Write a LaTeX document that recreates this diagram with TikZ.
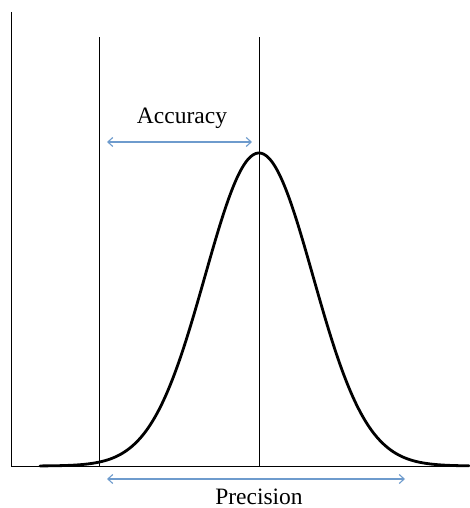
\documentclass[tikz,border=0pt]{standalone}
\usepackage{fontspec}
\setmainfont{Liberation Serif}
\usetikzlibrary{arrows.meta, positioning}
\definecolor{flecha}{RGB}{110, 155, 205}

\begin{document}
\begin{tikzpicture}[x=1pt, y=1pt,
    guia/.style={line width=0.9pt, black},
    medida/.style={{Straight Barb[length=5pt, width=9pt]}-{Straight Barb[length=5pt, width=9pt]}, line width=1.1pt, color=flecha},
    etiqueta/.style={font=\fontsize{23.5}{26}\selectfont, inner sep=0pt}]
  \useasboundingbox (0,0) rectangle (469,508);
  % ejes
  \coordinate (origen) at (11,42);
  \coordinate (ejeY) at (11,496);
  \coordinate (ejeX) at (469,42);
  \draw[guia] (ejeY) -- (origen) -- (ejeX);
  % lineas verticales
  \coordinate (refBase) at (99,42);
  \coordinate (refTop) at (99,471);
  \coordinate (medBase) at (259,42);
  \coordinate (medTop) at (259,471);
  \draw[guia] (refBase) -- (refTop);
  \draw[guia] (medBase) -- (medTop);
  % curva normal
  \draw[line width=2.8pt, line cap=round]
    plot[domain=40:469, samples=160, smooth] (\x, {42+313*exp(-0.5*((\x-259)/54)^2)});
  % exactitud
  \coordinate (accIzq) at (107,366);
  \coordinate (accDer) at (252,366);
  \draw[medida] (accIzq) -- (accDer);
  \node[etiqueta] (accuracy) at (182,390) {Accuracy};
  % precision
  \coordinate (preIzq) at (107,29);
  \coordinate (preDer) at (405,29);
  \draw[medida] (preIzq) -- (preDer);
  \node[etiqueta, anchor=base] (precision) at (259,4) {Precision};
\end{tikzpicture}
\end{document}
